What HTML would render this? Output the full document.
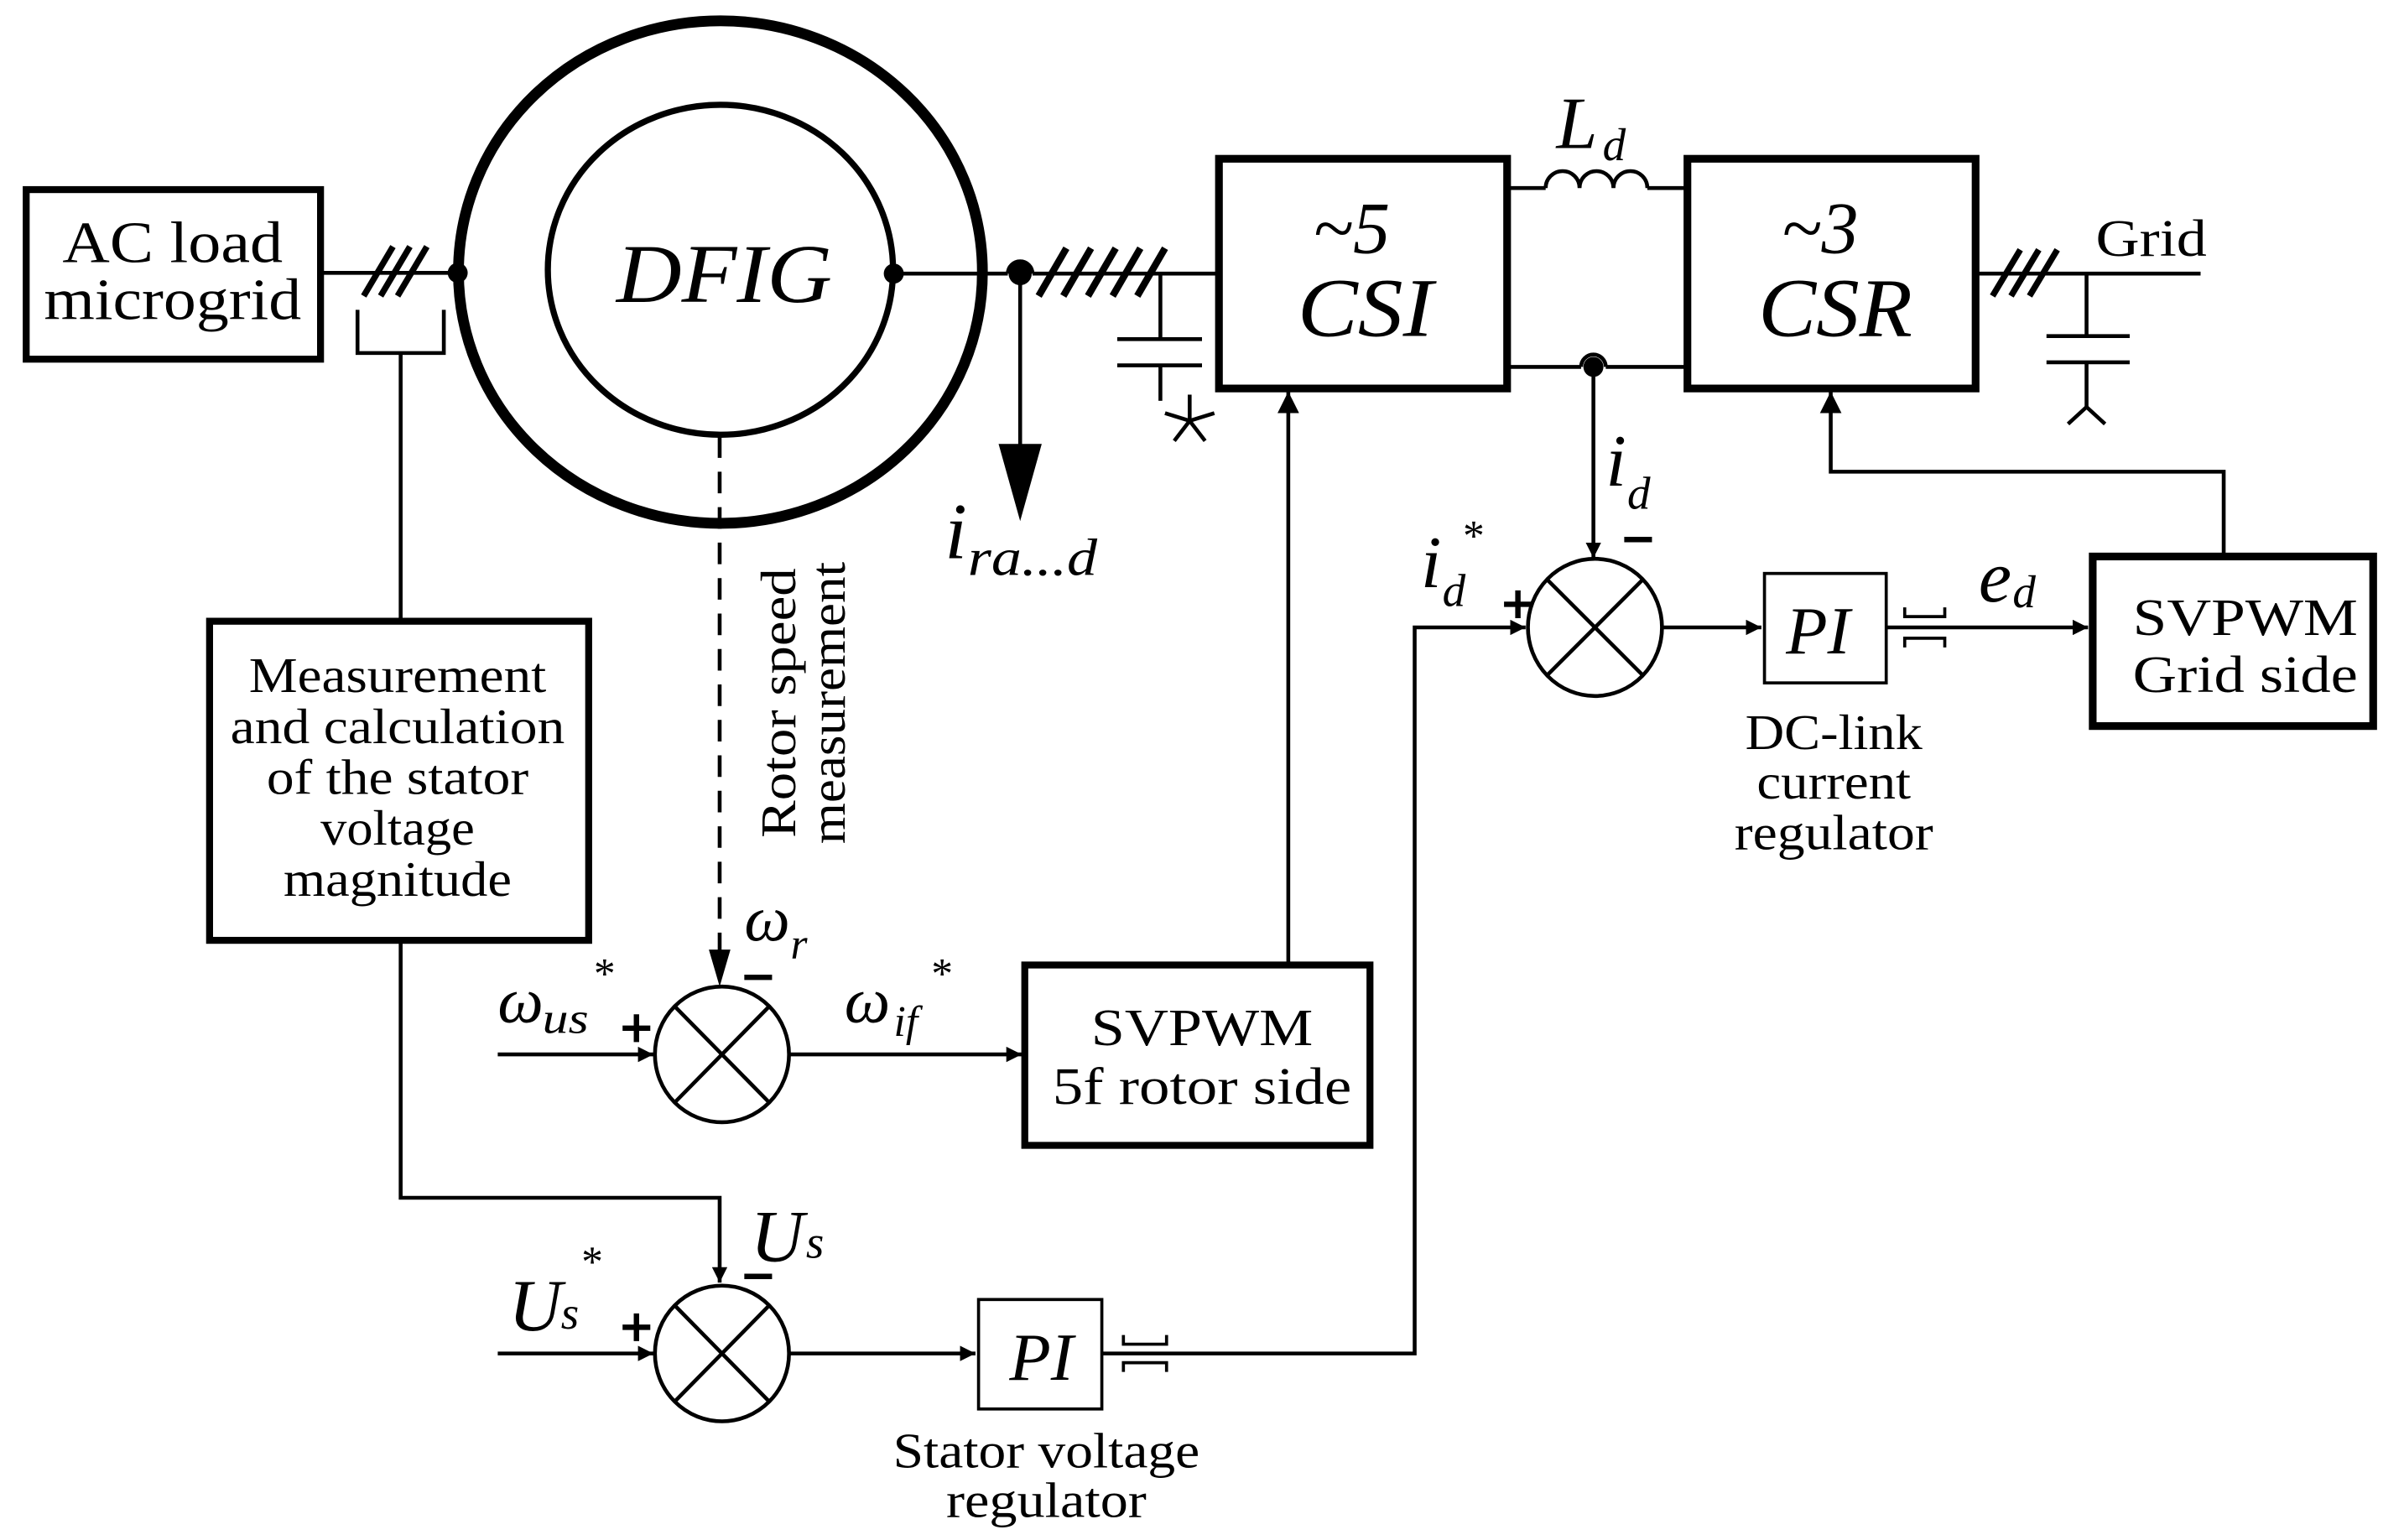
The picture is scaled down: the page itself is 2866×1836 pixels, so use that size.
<!DOCTYPE html>
<html><head><meta charset="utf-8"><style>
html,body{margin:0;padding:0;background:#fff;}
svg{display:block;}
text{font-family:"Liberation Serif","Times New Roman",Times,serif;fill:#000;}
.i{font-style:italic;}
</style></head><body>
<svg width="2866" height="1836" viewBox="0 0 1560 999" preserveAspectRatio="none" xmlns="http://www.w3.org/2000/svg" font-family="Liberation Serif, Times New Roman, serif">
<defs>
<marker id="a" viewBox="0 0 10 10" refX="10" refY="5" markerWidth="10" markerHeight="10" markerUnits="userSpaceOnUse" orient="auto"><path d="M0,0 L10,5 L0,10 z" fill="#000"/></marker>
<marker id="b" viewBox="0 0 10 10" refX="10" refY="5" markerWidth="14" markerHeight="14" markerUnits="userSpaceOnUse" orient="auto"><path d="M0,0 L10,5 L0,10 z" fill="#000"/></marker>
</defs>
<g fill="none" stroke="#000" stroke-width="2.5">
<rect x="17" y="123" width="191" height="110" stroke-width="4.5"/>
<line x1="208" y1="177" x2="297" y2="177"/>
<g stroke-width="4"><line x1="236" y1="192" x2="255" y2="160"/><line x1="247" y1="192" x2="266" y2="160"/><line x1="258" y1="192" x2="277" y2="160"/></g>
<polyline points="232,201 232,229 288,229 288,201"/>
<line x1="260" y1="229" x2="260" y2="402"/>
<ellipse cx="467.5" cy="176.5" rx="170" ry="163" stroke-width="7"/>
<ellipse cx="467.5" cy="175" rx="112" ry="107" stroke-width="4"/>
<line x1="580" y1="177.5" x2="654" y2="177.5"/>
<path d="M654,177.5 A8,8 0 0 1 670,177.5"/>
<line x1="670" y1="177.5" x2="789" y2="177.5"/>
<g stroke-width="4.5"><line x1="674" y1="192" x2="692" y2="161"/><line x1="690" y1="192" x2="708" y2="161"/><line x1="706" y1="192" x2="724" y2="161"/><line x1="722" y1="192" x2="740" y2="161"/><line x1="738" y1="192" x2="756" y2="161"/></g>
<line x1="662" y1="177" x2="662" y2="290"/>
<line x1="753" y1="177.5" x2="753" y2="220"/>
<line x1="725" y1="220" x2="780" y2="220"/>
<line x1="725" y1="237" x2="780" y2="237"/>
<line x1="753" y1="237" x2="753" y2="260"/>
<g transform="translate(772,273)"><line x1="0" y1="0" x2="0" y2="-17"/><line x1="0" y1="0" x2="16" y2="-5"/><line x1="0" y1="0" x2="10" y2="13"/><line x1="0" y1="0" x2="-10" y2="13"/><line x1="0" y1="0" x2="-16" y2="-5"/></g>
<line x1="467" y1="283" x2="467" y2="618" stroke-dasharray="14,9"/>
<rect x="136" y="403" width="246" height="207" stroke-width="4.5"/>
<ellipse cx="468.5" cy="684" rx="43.5" ry="44"/>
<line x1="438" y1="653" x2="499" y2="715"/><line x1="499" y1="653" x2="438" y2="715"/>
<line x1="323" y1="684" x2="424" y2="684" marker-end="url(#a)"/>
<line x1="512" y1="684" x2="663" y2="684" marker-end="url(#a)"/>
<rect x="665" y="626" width="224" height="117" stroke-width="4.5"/>
<polyline points="260,610 260,777 467,777 467,832" marker-end="url(#a)"/>
<ellipse cx="468.5" cy="878" rx="43.5" ry="44"/>
<line x1="438" y1="847" x2="499" y2="909"/><line x1="499" y1="847" x2="438" y2="909"/>
<line x1="323" y1="878" x2="424" y2="878" marker-end="url(#a)"/>
<line x1="512" y1="878" x2="633" y2="878" marker-end="url(#a)"/>
<rect x="635" y="843" width="80" height="71" stroke-width="2"/>
<polyline points="729,866 729,872 757,872 757,866" stroke-width="2"/>
<polyline points="729,890 729,884 757,884 757,890" stroke-width="2"/>
<polyline points="715,878 918,878 918,407 990,407" marker-end="url(#a)"/>
<line x1="836" y1="626" x2="836" y2="254" marker-end="url(#b)"/>
<rect x="791" y="103" width="187" height="149" stroke-width="5"/>
<rect x="1095" y="103" width="187" height="149" stroke-width="5"/>
<line x1="978" y1="122" x2="1003" y2="122"/>
<path d="M1003,122 a11,11 0 0 1 22,0 a11,11 0 0 1 22,0 a11,11 0 0 1 22,0"/>
<line x1="1069" y1="122" x2="1095" y2="122"/>
<line x1="978" y1="238" x2="1026" y2="238"/>
<path d="M1026,238 A8,8 0 0 1 1042,238"/>
<line x1="1042" y1="238" x2="1095" y2="238"/>
<line x1="1034" y1="238" x2="1034" y2="362" marker-end="url(#a)"/>
<ellipse cx="1035" cy="407" rx="43.5" ry="44.5"/>
<line x1="1004" y1="376" x2="1066" y2="438"/><line x1="1066" y1="376" x2="1004" y2="438"/>
<line x1="1079" y1="407" x2="1143" y2="407" marker-end="url(#a)"/>
<rect x="1145" y="372" width="79" height="71" stroke-width="2"/>
<polyline points="1236,394 1236,400 1262,400 1262,394" stroke-width="2"/>
<polyline points="1236,420 1236,414 1262,414 1262,420" stroke-width="2"/>
<line x1="1224" y1="407" x2="1355" y2="407" marker-end="url(#a)"/>
<rect x="1358" y="361" width="182" height="110" stroke-width="5"/>
<polyline points="1443,361 1443,306 1188,306 1188,254" marker-end="url(#b)"/>
<line x1="1282" y1="177.5" x2="1428" y2="177.5"/>
<g stroke-width="4"><line x1="1293" y1="192" x2="1311" y2="162"/><line x1="1305" y1="192" x2="1323" y2="162"/><line x1="1317" y1="192" x2="1335" y2="162"/></g>
<line x1="1354" y1="177.5" x2="1354" y2="218"/>
<line x1="1328" y1="218" x2="1382" y2="218"/>
<line x1="1328" y1="235" x2="1382" y2="235"/>
<line x1="1354" y1="235" x2="1354" y2="264"/>
<polyline points="1342,275 1354,264 1366,275"/>
<!-- plus / minus signs -->
<g stroke-width="3.5">
<line x1="404" y1="667" x2="422" y2="667"/><line x1="413" y1="658" x2="413" y2="676"/>
<line x1="483" y1="634" x2="501" y2="634"/>
<line x1="404" y1="861" x2="422" y2="861"/><line x1="413" y1="852" x2="413" y2="870"/>
<line x1="483" y1="828" x2="501" y2="828"/>
<line x1="976" y1="392" x2="994" y2="392"/><line x1="985" y1="383" x2="985" y2="401"/>
<line x1="1054" y1="350" x2="1072" y2="350"/>
</g>
</g>
<g fill="#000">
<circle cx="297" cy="177" r="6.5"/>
<circle cx="580" cy="177.5" r="6.5"/>
<circle cx="662" cy="177.5" r="7.5"/>
<circle cx="1034" cy="238" r="6.5"/>
<path d="M648,288 L676,288 L662,338 z"/>
<path d="M460,616 L474,616 L467,640 z"/>
</g>
<g text-anchor="middle" font-size="38">
<text x="112" y="170" textLength="143" lengthAdjust="spacingAndGlyphs">AC load</text>
<text x="112" y="207" textLength="167" lengthAdjust="spacingAndGlyphs">microgrid</text>
</g>
<text class="i" x="470" y="196" font-size="54" text-anchor="middle" textLength="140" lengthAdjust="spacingAndGlyphs">DFIG</text>
<g text-anchor="middle" font-size="32">
<text x="258" y="449" textLength="193" lengthAdjust="spacingAndGlyphs">Measurement</text>
<text x="258" y="482" textLength="217" lengthAdjust="spacingAndGlyphs">and calculation</text>
<text x="258" y="515" textLength="170" lengthAdjust="spacingAndGlyphs">of the stator</text>
<text x="258" y="548" textLength="100" lengthAdjust="spacingAndGlyphs">voltage</text>
<text x="258" y="581" textLength="148" lengthAdjust="spacingAndGlyphs">magnitude</text>
<text x="780" y="678" font-size="34" textLength="144" lengthAdjust="spacingAndGlyphs">SVPWM</text>
<text x="780" y="716" font-size="34" textLength="194" lengthAdjust="spacingAndGlyphs">5f rotor side</text>
<text x="1457" y="412" font-size="34" textLength="146" lengthAdjust="spacingAndGlyphs">SVPWM</text>
<text x="1457" y="449" font-size="34" textLength="146" lengthAdjust="spacingAndGlyphs">Grid side</text>
<text x="1190" y="486" textLength="115" lengthAdjust="spacingAndGlyphs">DC-link</text>
<text x="1190" y="518" textLength="100" lengthAdjust="spacingAndGlyphs">current</text>
<text x="1190" y="551" textLength="129" lengthAdjust="spacingAndGlyphs">regulator</text>
<text x="679" y="952" textLength="199" lengthAdjust="spacingAndGlyphs">Stator voltage</text>
<text x="679" y="984" textLength="130" lengthAdjust="spacingAndGlyphs">regulator</text>
</g>
<g transform="translate(516,456) rotate(-90)" text-anchor="middle" font-size="32">
<text x="0" y="0" textLength="175" lengthAdjust="spacingAndGlyphs">Rotor speed</text>
<text x="0" y="32" textLength="183" lengthAdjust="spacingAndGlyphs">measurement</text>
</g>
<g class="i">
<text class="i" x="613" y="362" font-size="52">i</text><text class="i" x="628" y="373" font-size="34" textLength="84" lengthAdjust="spacingAndGlyphs">ra...d</text>
<text class="i" x="483" y="610" font-size="42">ω</text><text class="i" x="513" y="622" font-size="28">r</text>
<text class="i" x="323" y="663" font-size="42">ω</text><text class="i" x="352" y="670" font-size="28" textLength="30" lengthAdjust="spacingAndGlyphs">us</text><text x="384" y="641" font-size="28">*</text>
<text class="i" x="548" y="663" font-size="42">ω</text><text class="i" x="580" y="672" font-size="28">if</text><text x="603" y="641" font-size="28">*</text>
<text class="i" x="487" y="818" font-size="48">U</text><text class="i" x="523" y="816" font-size="30">s</text>
<text class="i" x="330" y="863" font-size="48">U</text><text class="i" x="364" y="862" font-size="30">s</text><text x="376" y="828" font-size="28">*</text>
<text class="i" x="655" y="895" font-size="44">PI</text>
<text class="i" x="1159" y="424" font-size="44">PI</text>
<text class="i" x="1042" y="315" font-size="48">i</text><text class="i" x="1056" y="330" font-size="30">d</text>
<text class="i" x="922" y="381" font-size="48">i</text><text class="i" x="936" y="393" font-size="30">d</text><text x="948" y="357" font-size="28">*</text>
<text class="i" x="1284" y="390" font-size="48">e</text><text class="i" x="1306" y="394" font-size="30">d</text>
<text class="i" x="1010" y="96" font-size="48">L</text><text class="i" x="1040" y="104" font-size="30">d</text>
<text class="i" x="877" y="164" font-size="48" text-anchor="middle">~5</text>
<text class="i" x="886" y="218" font-size="54" text-anchor="middle" textLength="88" lengthAdjust="spacingAndGlyphs">CSI</text>
<text class="i" x="1181" y="164" font-size="48" text-anchor="middle">~3</text>
<text class="i" x="1191" y="218" font-size="54" text-anchor="middle" textLength="100" lengthAdjust="spacingAndGlyphs">CSR</text>
</g>
<text x="1360" y="166" font-size="34" textLength="72" lengthAdjust="spacingAndGlyphs">Grid</text>
</svg>
</body></html>
